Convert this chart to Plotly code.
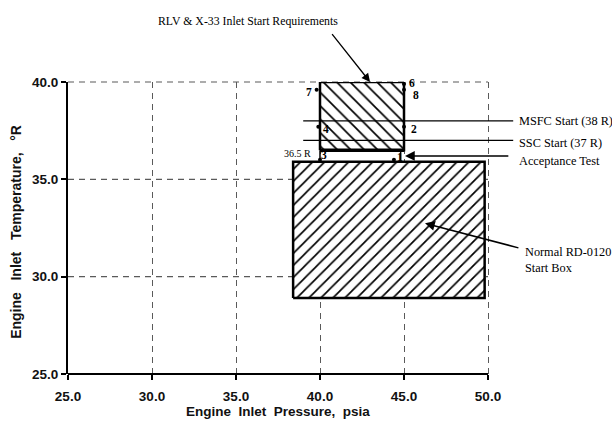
import plotly.graph_objects as go

# ---- axis ticks -------------------------------------------------------------
pressure_ticks = [25.0, 30.0, 35.0, 40.0, 45.0, 50.0]
temperature_ticks = [25.0, 30.0, 35.0, 40.0]

# ---- start boxes (pressure psia, temperature R) ------------------------------
rd0120_box_p = [38.4, 49.8]
rd0120_box_t = [28.9, 35.9]

rlv_box_p = [40.0, 45.0]
rlv_box_t = [36.5, 40.0]

# gap between the requirement box and the acceptance test temperature
gap_p = [40.0, 44.8]
gap_t = [35.9, 36.5]

# ---- facility start temperatures ---------------------------------------------
msfc_start_t = 38.0
ssc_start_t = 37.0
acceptance_t = 36.2
facility_line_p = [39.0, 51.5]

# ---- numbered start points ---------------------------------------------------
point_labels = ["1", "2", "3", "4", "6", "7", "8"]
point_p = [44.4, 45.0, 40.0, 39.9, 45.0, 39.8, 45.0]
point_t = [36.0, 37.7, 36.0, 37.7, 39.9, 39.6, 39.6]

# ---- layout constants ----------------------------------------------------------
X_RANGE = [25.0, 57.381]   # axis drawn 25-50, extra room for callouts
Y_RANGE = [25.0, 40.0]
SERIF = "Liberation Serif, Times New Roman, serif"
SANS = "Liberation Sans, Arial, sans-serif"
GRID_DASH = "6px,5px"
GRID_COLOR = "#5a5a5a"
NB2 = "\u00a0\u00a0"
NB3 = "\u00a0\u00a0\u00a0"

label_offsets = {  # (xshift, yshift) of each point number
    "1": (6, 3), "2": (10, -2), "3": (4, 5), "4": (8, -2),
    "6": (8, 1), "7": (-8, -2), "8": (12, -5),
}


def yfrac(v):
    return (v - Y_RANGE[0]) / (Y_RANGE[1] - Y_RANGE[0])


def box_xy(p, t):
    return ([p[0], p[1], p[1], p[0], p[0]], [t[0], t[0], t[1], t[1], t[0]])


fig = go.Figure()

# Normal RD-0120 start box
bx, by = box_xy(rd0120_box_p, rd0120_box_t)
fig.add_trace(go.Scatter(
    x=bx, y=by, mode="lines", fill="toself", fillcolor="white",
    fillpattern=dict(shape="/", size=8.5, solidity=0.2, fgcolor="black",
                     fgopacity=1, bgcolor="white"),
    line=dict(color="black", width=2.5), hoverinfo="skip", showlegend=False))

# RLV & X-33 requirement box
bx, by = box_xy(rlv_box_p, rlv_box_t)
fig.add_trace(go.Scatter(
    x=bx, y=by, mode="lines", fill="toself", fillcolor="white",
    fillpattern=dict(shape="\\", size=9.5, solidity=0.18, fgcolor="black",
                     fgopacity=1, bgcolor="white"),
    line=dict(color="black", width=2.5), hoverinfo="skip", showlegend=False))

# thick lower edge of the requirement box
fig.add_trace(go.Scatter(
    x=rlv_box_p, y=[rlv_box_t[0]] * 2, mode="lines",
    line=dict(color="black", width=3.5), hoverinfo="skip", showlegend=False))

# edges of the gap strip
for p in gap_p:
    fig.add_trace(go.Scatter(
        x=[p, p], y=gap_t, mode="lines",
        line=dict(color="black", width=1.5), hoverinfo="skip", showlegend=False))

# facility start temperature lines
for t in (msfc_start_t, ssc_start_t):
    fig.add_trace(go.Scatter(
        x=facility_line_p, y=[t, t], mode="lines",
        line=dict(color="black", width=1.3), hoverinfo="skip", showlegend=False))

# start points
fig.add_trace(go.Scatter(
    x=point_p, y=point_t, mode="markers",
    marker=dict(color="black", size=4), hoverinfo="skip", showlegend=False))

for lab, p, t in zip(point_labels, point_p, point_t):
    dx, dy = label_offsets[lab]
    fig.add_annotation(x=p, y=t, text=f"<b>{lab}</b>", showarrow=False,
                       xshift=dx, yshift=dy,
                       font=dict(family=SERIF, size=11.5, color="black"))

# horizontal dashed grid (only across the 25-50 psia span)
shapes = []
for t in temperature_ticks[1:]:
    shapes.append(dict(type="line", xref="x", yref="y domain",
                       x0=pressure_ticks[0], x1=pressure_ticks[-1],
                       y0=yfrac(t), y1=yfrac(t), layer="below",
                       line=dict(color=GRID_COLOR, width=1.2, dash=GRID_DASH)))
# x axis line from 25 to 50
shapes.append(dict(type="line", xref="x", yref="y domain",
                   x0=pressure_ticks[0], x1=pressure_ticks[-1], y0=0, y1=0,
                   layer="above", line=dict(color="black", width=2)))
fig.update_layout(shapes=shapes)

# callout texts
fig.add_annotation(xref="paper", yref="paper", x=0.33, y=1.209,
                   xanchor="center", yanchor="middle",
                   text="RLV &amp; X-33 Inlet Start Requirements", showarrow=False,
                   font=dict(family=SERIF, size=11.8, color="black"))
fig.add_annotation(x=42.98, y=Y_RANGE[1], ax=40.65, ay=42.54, axref="x", ayref="y",
                   text="", showarrow=True, arrowhead=2, arrowsize=1.3,
                   arrowwidth=1.3, arrowcolor="black")

fig.add_annotation(x=51.7, y=msfc_start_t, text="MSFC Start (38 R)",
                   xanchor="left", showarrow=False, yshift=0,
                   font=dict(family=SERIF, size=12.3, color="black"))
fig.add_annotation(x=51.7, y=ssc_start_t, text="SSC Start (37 R)",
                   xanchor="left", showarrow=False, yshift=-3,
                   font=dict(family=SERIF, size=12.3, color="black"))
fig.add_annotation(x=51.7, y=acceptance_t, text="Acceptance Test",
                   xanchor="left", showarrow=False, yshift=-5,
                   font=dict(family=SERIF, size=12.3, color="black"))
fig.add_annotation(x=45.06, y=acceptance_t, ax=51.3, ay=acceptance_t,
                   axref="x", ayref="y", text="", showarrow=True,
                   arrowhead=2, arrowsize=1.3, arrowwidth=1.5, arrowcolor="black")

fig.add_annotation(x=39.6, y=rlv_box_t[0], text="36.5 R", xanchor="right",
                   showarrow=False, yshift=-3,
                   font=dict(family=SERIF, size=10, color="black"))

fig.add_annotation(x=52.1, y=31.75, text="Normal RD-0120<br>Start Box",
                   xanchor="left", yanchor="top", align="left", showarrow=False,
                   font=dict(family=SERIF, size=12.3, color="black"))
fig.add_annotation(x=46.25, y=32.74, ax=51.9, ay=31.46, axref="x", ayref="y",
                   text="", showarrow=True, arrowhead=2, arrowsize=1.3,
                   arrowwidth=1.5, arrowcolor="black")

# axis titles
fig.add_annotation(x=(pressure_ticks[0] + pressure_ticks[-1]) / 2, xref="x",
                   y=-0.127, yref="paper", xanchor="center", yanchor="middle",
                   showarrow=False,
                   text=f"<b>Engine{NB2}Inlet{NB2}Pressure,{NB2}psia</b>",
                   font=dict(family=SANS, size=13.5, color="#111"))
fig.add_annotation(x=-0.096, xref="paper", y=0.486, yref="paper",
                   xanchor="center", yanchor="middle", showarrow=False,
                   textangle=-90,
                   text=f"<b>Engine{NB3}Inlet{NB3}Temperature,{NB3}\u00b0R</b>",
                   font=dict(family=SANS, size=14, color="#111"))

fig.update_xaxes(range=X_RANGE, tickvals=pressure_ticks, tickformat=".1f",
                 showline=False, zeroline=False, ticks="outside", ticklen=5,
                 tickwidth=1.5, tickcolor="black", ticklabelstandoff=5,
                 showgrid=True, gridcolor=GRID_COLOR, gridwidth=1.2,
                 griddash=GRID_DASH,
                 tickfont=dict(family=SANS, size=13.5, color="#111",
                               weight="bold"))
fig.update_yaxes(range=Y_RANGE, tickvals=temperature_ticks, tickformat=".1f",
                 showline=True, linecolor="black", linewidth=2, zeroline=False,
                 ticks="outside", ticklen=5, tickwidth=1.5, tickcolor="black",
                 showgrid=False,
                 tickfont=dict(family=SANS, size=13.5, color="#111",
                               weight="bold"))

fig.update_layout(width=612, height=425,
                  margin=dict(l=68, r=0, t=82, b=51),
                  paper_bgcolor="white", plot_bgcolor="white",
                  showlegend=False)

fig.write_html("out.html")
